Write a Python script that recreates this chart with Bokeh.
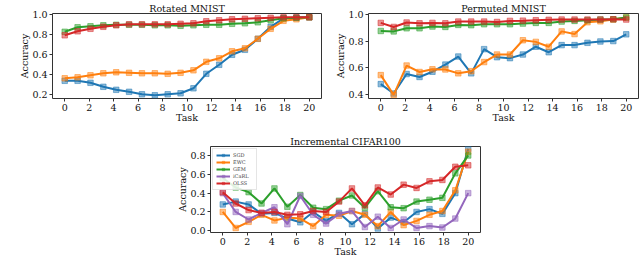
import numpy as np
from bokeh.plotting import figure
from bokeh.layouts import column, row
from bokeh.models import FixedTicker, PrintfTickFormatter, Range1d, Legend, LegendItem, Spacer
from bokeh.embed import file_html
from bokeh.resources import INLINE

tasks = np.linspace(0, 20, 20)

rot_sgd = [0.34, 0.34, 0.32, 0.28, 0.25, 0.23, 0.205, 0.195, 0.205, 0.215, 0.265, 0.41, 0.50, 0.60, 0.65, 0.76, 0.88, 0.965, 0.97, 0.975]
rot_ewc = [0.365, 0.375, 0.395, 0.415, 0.425, 0.42, 0.415, 0.415, 0.41, 0.42, 0.445, 0.53, 0.565, 0.635, 0.665, 0.76, 0.86, 0.94, 0.955, 0.975]
rot_gem = [0.83, 0.875, 0.885, 0.895, 0.9, 0.9, 0.9, 0.895, 0.895, 0.89, 0.895, 0.9, 0.9, 0.91, 0.915, 0.925, 0.945, 0.965, 0.97, 0.975]
rot_olss = [0.795, 0.835, 0.86, 0.88, 0.895, 0.905, 0.905, 0.905, 0.905, 0.91, 0.915, 0.935, 0.945, 0.955, 0.96, 0.965, 0.97, 0.975, 0.975, 0.975]

perm_sgd = [0.48, 0.41, 0.555, 0.533, 0.572, 0.625, 0.685, 0.56, 0.74, 0.68, 0.673, 0.70, 0.758, 0.717, 0.77, 0.77, 0.787, 0.797, 0.80, 0.85]
perm_ewc = [0.547, 0.40, 0.618, 0.57, 0.59, 0.589, 0.56, 0.576, 0.644, 0.70, 0.70, 0.806, 0.794, 0.758, 0.872, 0.852, 0.94, 0.947, 0.96, 0.976]
perm_gem = [0.875, 0.872, 0.895, 0.895, 0.908, 0.905, 0.92, 0.918, 0.925, 0.925, 0.925, 0.93, 0.935, 0.935, 0.945, 0.95, 0.955, 0.96, 0.962, 0.975]
perm_olss = [0.935, 0.905, 0.938, 0.932, 0.935, 0.932, 0.945, 0.945, 0.945, 0.942, 0.95, 0.952, 0.955, 0.958, 0.96, 0.96, 0.96, 0.96, 0.962, 0.96]

cif_sgd = [0.28, 0.31, 0.28, 0.18, 0.19, 0.13, 0.09, 0.20, 0.105, 0.19, 0.07, 0.18, 0.025, 0.14, 0.09, 0.20, 0.23, 0.18, 0.40, 0.87]
cif_ewc = [0.20, 0.03, 0.095, 0.17, 0.11, 0.14, 0.13, 0.05, 0.17, 0.16, 0.21, 0.17, 0.05, 0.20, 0.06, 0.105, 0.17, 0.21, 0.43, 0.84]
cif_gem = [0.56, 0.46, 0.41, 0.29, 0.45, 0.255, 0.38, 0.245, 0.23, 0.32, 0.375, 0.245, 0.42, 0.25, 0.24, 0.31, 0.33, 0.35, 0.61, 0.80]
cif_icarl = [0.40, 0.20, 0.12, 0.19, 0.25, 0.07, 0.37, 0.17, 0.077, 0.18, 0.21, 0.04, 0.15, 0.03, 0.12, 0.03, 0.05, 0.035, 0.13, 0.40]
cif_olss = [0.41, 0.29, 0.22, 0.19, 0.20, 0.17, 0.175, 0.21, 0.20, 0.31, 0.45, 0.27, 0.46, 0.385, 0.49, 0.455, 0.525, 0.54, 0.68, 0.695]

x_ticks = list(range(0, 21, 2))
COL = {"SGD": "#1f77b4", "EWC": "#ff7f0e", "GEM": "#2ca02c", "iCaRL": "#9467bd", "OLSS": "#d62728"}
FONT = "DejaVu Serif"
FS = "9.5px"


def make_fig(title, w, h, yr, yticks, bl, br, bt, bb):
    p = figure(width=w, height=h, output_backend="svg", toolbar_location=None,
               x_range=Range1d(-1, 21), y_range=Range1d(*yr),
               min_border_left=bl, min_border_right=br, min_border_top=bt, min_border_bottom=bb)
    p.title.text = title
    p.title.align = "center"
    p.title.text_font = FONT
    p.title.text_font_size = FS
    p.title.text_font_style = "normal"
    p.title.text_color = "#111111"
    p.title.standoff = 0
    p.title.offset = 0
    p.grid.visible = False
    p.outline_line_color = "#333333"
    p.outline_line_width = 1
    for ax in (p.xaxis[0], p.yaxis[0]):
        ax.axis_line_color = None
        ax.major_tick_out = 3
        ax.major_tick_in = 0
        ax.minor_tick_line_color = None
        ax.major_tick_line_color = "#333333"
        ax.major_label_text_font = FONT
        ax.major_label_text_font_size = FS
        ax.major_label_text_color = "#111111"
        ax.axis_label_text_font = FONT
        ax.axis_label_text_font_size = FS
        ax.axis_label_text_font_style = "normal"
        ax.axis_label_text_color = "#111111"
        ax.major_label_standoff = 2
    p.xaxis[0].axis_label_standoff = -2
    p.yaxis[0].axis_label_standoff = -1
    p.xaxis.ticker = FixedTicker(ticks=x_ticks)
    p.yaxis.ticker = FixedTicker(ticks=yticks)
    p.yaxis.formatter = PrintfTickFormatter(format="%.1f")
    p.xaxis.axis_label = "Task"
    p.yaxis.axis_label = "Accuracy"
    return p


def add_series(p, name, ys):
    c = COL[name]
    l = p.line(tasks, ys, line_color=c, line_width=2)
    s = p.scatter(tasks, ys, marker="square", size=5.5, fill_color=c, fill_alpha=0.5,
                  line_color=c, line_alpha=0.5)
    return [l, s]


p1 = make_fig("Rotated MNIST", 322, 133, (0.163, 1.013), [0.2, 0.4, 0.6, 0.8, 1.0], 52, 1, 12, 35)
for n, ys in (("SGD", rot_sgd), ("EWC", rot_ewc), ("GEM", rot_gem), ("OLSS", rot_olss)):
    add_series(p1, n, ys)

p2 = make_fig("Permuted MNIST", 318, 133, (0.373, 1.005), [0.4, 0.6, 0.8, 1.0], 46, 2, 12, 35)
for n, ys in (("SGD", perm_sgd), ("EWC", perm_ewc), ("GEM", perm_gem), ("OLSS", perm_olss)):
    add_series(p2, n, ys)

p3 = make_fig("Incremental CIFAR100", 320, 130, (-0.018, 0.895), [0.0, 0.2, 0.4, 0.6, 0.8], 40, 10, 12, 31)
items = []
for n, ys in (("SGD", cif_sgd), ("EWC", cif_ewc), ("GEM", cif_gem), ("iCaRL", cif_icarl), ("OLSS", cif_olss)):
    r = add_series(p3, n, ys)
    items.append(LegendItem(label=n, renderers=r))
leg = Legend(items=items, location="top_left", label_text_font=FONT, label_text_font_size="5px",
             glyph_width=14, glyph_height=6, label_height=6, label_standoff=3, spacing=1,
             padding=3, margin=2, border_line_color="#cccccc", background_fill_alpha=0.85)
p3.add_layout(leg)

layout = column(row(p1, p2), row(Spacer(width=170), p3))

open("out.html", "w").write(file_html(layout, INLINE))
